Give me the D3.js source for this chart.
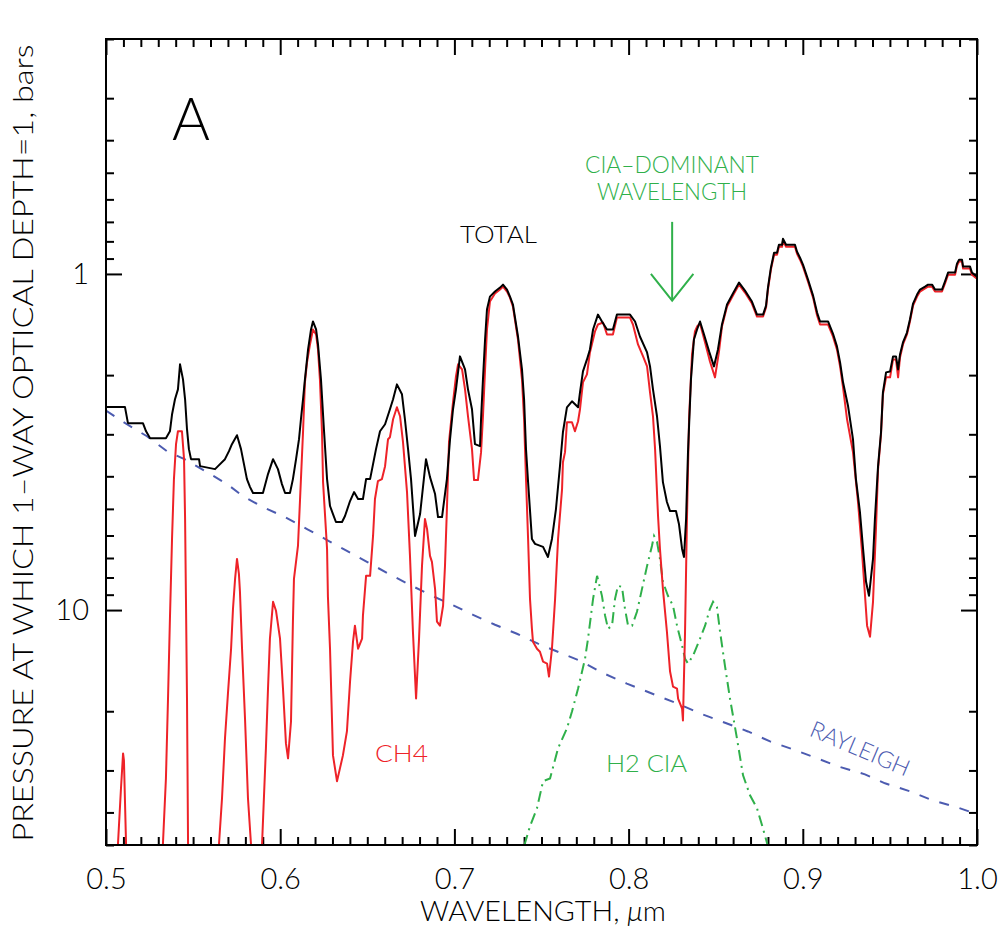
<!DOCTYPE html>
<html><head><meta charset="utf-8">
<script src="https://cdn.jsdelivr.net/npm/d3@7"></script>
<style>
body{margin:0;background:#fff;}
text{font-family:Lato,"Liberation Sans",sans-serif;font-weight:300;}
</style>
</head><body>
<svg id="c" width="999" height="933"></svg>
<script>
// ---- data (wavelength in micron, pressure in bars) ----
const totalW = [0.5000,0.5109,0.5126,0.5212,0.5230,0.5253,0.5344,0.5367,0.5379,0.5396,0.5413,0.5425,0.5442,0.5454,0.5465,0.5476,0.5488,0.5534,0.5540,0.5626,0.5643,0.5683,0.5706,0.5723,0.5752,0.5775,0.5792,0.5809,0.5827,0.5844,0.5901,0.5930,0.5959,0.5987,0.6010,0.6028,0.6056,0.6073,0.6091,0.6108,0.6119,0.6131,0.6142,0.6160,0.6177,0.6188,0.6206,0.6217,0.6234,0.6251,0.6269,0.6286,0.6303,0.6320,0.6355,0.6372,0.6401,0.6424,0.6447,0.6475,0.6493,0.6516,0.6533,0.6550,0.6573,0.6602,0.6630,0.6648,0.6670,0.6699,0.6716,0.6734,0.6751,0.6774,0.6803,0.6837,0.6860,0.6889,0.6906,0.6929,0.6957,0.6975,0.6992,0.7009,0.7032,0.7061,0.7078,0.7101,0.7118,0.7147,0.7153,0.7164,0.7176,0.7187,0.7204,0.7233,0.7262,0.7279,0.7302,0.7319,0.7336,0.7365,0.7388,0.7400,0.7411,0.7423,0.7445,0.7463,0.7509,0.7537,0.7560,0.7583,0.7606,0.7623,0.7646,0.7675,0.7710,0.7721,0.7738,0.7761,0.7778,0.7796,0.7824,0.7847,0.7876,0.7910,0.7933,0.8008,0.8037,0.8065,0.8106,0.8123,0.8140,0.8163,0.8180,0.8197,0.8220,0.8238,0.8272,0.8289,0.8307,0.8318,0.8330,0.8341,0.8358,0.8375,0.8393,0.8410,0.8433,0.8462,0.8490,0.8513,0.8536,0.8565,0.8599,0.8634,0.8668,0.8708,0.8726,0.8737,0.8772,0.8789,0.8800,0.8817,0.8835,0.8852,0.8863,0.8881,0.8886,0.8904,0.8955,0.8967,0.8984,0.9001,0.9030,0.9059,0.9082,0.9099,0.9145,0.9173,0.9196,0.9214,0.9231,0.9260,0.9288,0.9305,0.9328,0.9346,0.9363,0.9380,0.9403,0.9414,0.9432,0.9449,0.9460,0.9478,0.9501,0.9518,0.9535,0.9547,0.9558,0.9575,0.9598,0.9615,0.9633,0.9656,0.9673,0.9702,0.9719,0.9742,0.9759,0.9799,0.9816,0.9834,0.9874,0.9885,0.9897,0.9914,0.9920,0.9960,0.9971,1.0000];
const totalP = [2.49,2.49,2.78,2.78,2.94,3.08,3.08,2.94,2.62,2.36,2.205,1.858,2.059,2.36,2.897,3.321,3.557,3.557,3.731,3.808,3.731,3.557,3.367,3.210,3.019,3.321,3.680,4.077,4.307,4.486,4.486,3.940,3.557,3.808,4.220,4.486,4.486,4.077,3.557,3.102,2.706,2.36,2.059,1.677,1.463,1.385,1.463,1.621,2.059,2.897,4.077,4.903,5.180,5.470,5.470,5.251,4.739,4.456,4.674,4.674,4.077,4.077,3.680,3.321,2.938,2.800,2.527,2.36,2.131,2.281,2.706,3.321,4.077,6.018,5.180,3.557,4.022,4.517,5.287,5.287,4.077,3.102,2.527,2.205,1.759,1.923,2.205,2.527,3.210,3.254,2.706,2.059,1.567,1.276,1.168,1.128,1.098,1.076,1.113,1.168,1.233,1.535,1.923,2.36,3.321,4.162,6.143,6.356,6.487,6.950,6.143,5.005,3.731,2.958,2.493,2.393,2.493,2.250,1.950,1.796,1.677,1.463,1.321,1.385,1.463,1.463,1.321,1.321,1.385,1.535,1.712,1.884,2.205,2.651,3.254,4.162,4.771,5.075,5.075,5.545,6.577,6.950,5.359,3.390,2.059,1.567,1.463,1.385,1.514,1.700,1.884,1.677,1.414,1.233,1.144,1.061,1.121,1.208,1.276,1.321,1.321,1.242,1.098,0.958,0.865,0.865,0.819,0.819,0.786,0.819,0.819,0.859,0.895,0.938,1.040,1.160,1.303,1.385,1.385,1.504,1.643,1.833,2.101,2.476,3.102,4.077,5.109,6.577,8.241,9.071,7.045,5.359,3.731,2.958,2.250,1.963,1.950,1.759,1.759,1.923,1.736,1.599,1.494,1.366,1.225,1.152,1.113,1.091,1.076,1.076,1.113,1.113,1.054,0.991,0.991,0.932,0.907,0.907,0.951,0.951,0.991,1.019];

const ch4W = [0.5046,0.5069,0.5086,0.5098,0.5103,0.5115,0.5126,0.5310,0.5327,0.5344,0.5356,0.5367,0.5379,0.5390,0.5402,0.5413,0.5436,0.5448,0.5454,0.5459,0.5465,0.5471,0.5482,0.5631,0.5649,0.5666,0.5683,0.5700,0.5718,0.5729,0.5741,0.5752,0.5763,0.5769,0.5781,0.5798,0.5815,0.5832,0.5844,0.5878,0.5896,0.5918,0.5930,0.5941,0.5959,0.5976,0.5999,0.6016,0.6033,0.6045,0.6062,0.6073,0.6079,0.6102,0.6114,0.6131,0.6142,0.6154,0.6171,0.6188,0.6206,0.6217,0.6228,0.6240,0.6246,0.6269,0.6274,0.6286,0.6303,0.6326,0.6343,0.6360,0.6383,0.6401,0.6418,0.6429,0.6447,0.6470,0.6475,0.6493,0.6516,0.6533,0.6544,0.6561,0.6584,0.6602,0.6619,0.6630,0.6648,0.6670,0.6688,0.6705,0.6728,0.6745,0.6762,0.6780,0.6797,0.6814,0.6831,0.6843,0.6860,0.6871,0.6889,0.6900,0.6917,0.6935,0.6946,0.6957,0.6969,0.6992,0.7009,0.7021,0.7044,0.7061,0.7078,0.7101,0.7113,0.7135,0.7153,0.7164,0.7176,0.7187,0.7204,0.7233,0.7262,0.7279,0.7302,0.7319,0.7336,0.7365,0.7388,0.7400,0.7411,0.7423,0.7434,0.7445,0.7451,0.7474,0.7491,0.7509,0.7532,0.7543,0.7560,0.7578,0.7595,0.7618,0.7623,0.7635,0.7646,0.7675,0.7692,0.7710,0.7721,0.7738,0.7761,0.7778,0.7807,0.7824,0.7853,0.7876,0.7910,0.7933,0.8008,0.8025,0.8054,0.8083,0.8106,0.8123,0.8140,0.8152,0.8169,0.8180,0.8197,0.8220,0.8238,0.8255,0.8278,0.8284,0.8307,0.8312,0.8324,0.8335,0.8347,0.8364,0.8381,0.8393,0.8410,0.8439,0.8467,0.8496,0.8519,0.8536,0.8565,0.8599,0.8634,0.8668,0.8708,0.8726,0.8737,0.8772,0.8789,0.8800,0.8817,0.8835,0.8852,0.8863,0.8881,0.8886,0.8904,0.8955,0.8967,0.8984,0.9001,0.9030,0.9059,0.9082,0.9099,0.9145,0.9173,0.9196,0.9214,0.9231,0.9254,0.9288,0.9317,0.9340,0.9369,0.9386,0.9403,0.9420,0.9432,0.9449,0.9460,0.9478,0.9501,0.9518,0.9535,0.9547,0.9558,0.9575,0.9598,0.9615,0.9633,0.9656,0.9673,0.9702,0.9719,0.9742,0.9759,0.9799,0.9816,0.9834,0.9874,0.9885,0.9897,0.9914,0.9920,0.9960,0.9971,1.0000];
const ch4P = [100,49.4,33.9,26.7,28.0,49.4,100,100,49.4,31.7,18.33,10.62,6.143,4.077,3.210,2.938,2.938,3.557,5.359,9.26,18.33,49.4,100,100,49.4,36.3,24.1,17.72,13.03,9.91,8.075,7.045,7.804,8.826,13.03,21.02,36.3,49.4,100,100,49.4,25.79,17.12,12.17,9.45,10.05,12.17,17.12,24.93,27.62,21.46,10.83,8.075,6.445,4.674,2.958,2.101,1.833,1.621,1.463,1.514,1.677,2.059,2.958,4.162,6.577,9.13,13.03,27.06,32.3,29.58,27.06,22.97,16.32,12.42,11.13,13.03,12.17,10.39,7.91,7.91,6.018,4.674,4.133,4.077,3.731,3.102,3.060,2.706,2.493,2.651,3.167,4.456,6.90,11.6,18.33,12.17,7.39,5.359,5.738,6.90,7.19,8.65,10.83,11.13,9.71,7.39,5.005,3.167,2.409,2.017,1.858,1.923,2.205,2.651,3.321,4.106,4.106,3.390,2.651,1.923,1.463,1.208,1.144,1.113,1.091,1.128,1.176,1.251,1.567,2.059,2.706,4.077,6.143,9.26,11.36,12.42,13.03,13.30,14.24,14.43,15.77,13.03,9.26,6.143,4.366,3.631,3.390,2.762,2.762,2.938,2.743,2.527,2.101,1.990,1.712,1.483,1.414,1.395,1.514,1.514,1.348,1.348,1.414,1.621,1.759,1.884,2.250,2.651,3.321,5.251,6.577,8.65,11.6,15.24,16.89,17.12,18.33,19.63,21.31,11.6,5.359,2.706,1.736,1.483,1.434,1.404,1.599,1.821,2.031,1.700,1.434,1.251,1.160,1.076,1.136,1.225,1.294,1.339,1.339,1.259,1.113,0.971,0.877,0.877,0.830,0.830,0.797,0.830,0.830,0.871,0.907,0.951,1.054,1.176,1.329,1.414,1.414,1.535,1.677,1.884,2.175,2.706,3.390,4.771,6.714,11.13,12.0,9.45,5.738,3.808,2.999,2.281,2.031,2.031,1.796,1.796,2.031,1.772,1.621,1.514,1.385,1.242,1.168,1.128,1.105,1.091,1.091,1.128,1.128,1.069,1.005,1.005,0.945,0.919,0.919,0.964,0.964,1.005,1.033];

const ciaW = [0.7377,0.7405,0.7434,0.7474,0.7509,0.7549,0.7560,0.7595,0.7646,0.7675,0.7710,0.7750,0.7767,0.7796,0.7819,0.7847,0.7865,0.7882,0.7905,0.7922,0.7939,0.7962,0.7979,0.7997,0.8020,0.8048,0.8077,0.8106,0.8134,0.8146,0.8163,0.8180,0.8197,0.8226,0.8255,0.8278,0.8307,0.8324,0.8341,0.8370,0.8410,0.8439,0.8467,0.8485,0.8507,0.8525,0.8553,0.8582,0.8622,0.8657,0.8697,0.8737,0.8766,0.8795,0.8812];
const ciaP = [58.6,49.4,43.95,38.87,32.3,31.7,30.19,25.79,22.50,20.04,17.12,13.95,12.17,9.26,7.91,9.071,10.39,11.36,11.13,9.26,8.47,8.53,9.91,11.13,11.13,10.12,8.65,7.39,6.445,6.018,6.27,7.045,8.241,9.071,9.71,11.13,12.76,13.95,14.43,13.66,12.17,11.13,9.91,9.45,9.78,11.6,14.63,18.33,24.1,31.02,35.57,38.87,43.66,49.4,58.6];

const rayW = [0.500,0.512,0.5235,0.535,0.5453,0.558,0.5695,0.5786,0.590,0.6028,0.6154,0.6269,0.6383,0.6498,0.6613,0.6734,0.686,0.6986,0.7107,0.7233,0.7359,0.748,0.7606,0.7733,0.7847,0.799,0.8163,0.8295,0.841,0.8565,0.8685,0.8812,0.8944,0.9082,0.9202,0.9357,0.9472,0.9615,0.9742,0.9885,1.0];
const rayP = [2.55,2.80,3.04,3.37,3.56,3.89,4.22,4.58,4.94,5.29,5.74,6.19,6.67,7.19,7.75,8.36,9.01,9.64,10.33,11.06,11.76,12.59,13.39,14.24,15.35,16.55,17.96,19.10,20.31,21.75,22.97,24.59,25.97,27.62,29.17,30.82,32.77,34.61,36.80,38.61,40.5];

const xTicks = [0.5,0.6,0.7,0.8,0.9,1.0];
const xTickLabels = ["0.5","0.6","0.7","0.8","0.9","1.0"];
const yTicks = [1,10];
const yTickLabels = ["1","10"];
const arrowW = 0.825, arrowTop = 0.70, arrowTip = 1.20, arrowBack = 1.0, arrowHalf = 0.0122;

// ---- layout ----
const L=106, R=977, T=39, B=845;
const svg = d3.select("#c");
const x = d3.scaleLinear().domain([0.5,1.0]).range([L,R]);
const y = d3.scaleLog().domain([0.2,50]).range([T,B]);

const xMinor = d3.range(51).map(i=>+(0.5+i*0.01).toFixed(2)).filter(v=>!xTicks.includes(v));
const yMinor = [0.2,0.3,0.4,0.5,0.6,0.7,0.8,0.9,2,3,4,5,6,7,8,9,20,30,40,50];

svg.append("defs").append("clipPath").attr("id","clip")
  .append("rect").attr("x",L).attr("y",T).attr("width",R-L).attr("height",B-T);

function styleAxis(g){
  g.select(".domain").remove();
  g.selectAll(".tick line").attr("stroke","#000").attr("stroke-width",2);
  g.selectAll(".tick text").attr("font-size",29).attr("fill","#000")
   .attr("font-family","Lato, 'Liberation Sans', sans-serif").attr("font-weight",300);
}
svg.append("g").attr("transform",`translate(0,${B})`)
  .call(d3.axisBottom(x).tickValues(xMinor).tickSize(-8).tickFormat("")).call(styleAxis);
svg.append("g").attr("transform",`translate(0,${B})`)
  .call(d3.axisBottom(x).tickValues(xTicks).tickSize(-16).tickPadding(23).tickFormat((d,i)=>xTickLabels[i])).call(styleAxis);
svg.append("g").attr("transform",`translate(0,${T})`)
  .call(d3.axisTop(x).tickValues(xMinor).tickSize(-8).tickFormat("")).call(styleAxis);
svg.append("g").attr("transform",`translate(0,${T})`)
  .call(d3.axisTop(x).tickValues(xTicks).tickSize(-16).tickFormat("")).call(styleAxis);
svg.append("g").attr("transform",`translate(${L},0)`)
  .call(d3.axisLeft(y).tickValues(yMinor).tickSize(-8).tickFormat("")).call(styleAxis);
svg.append("g").attr("transform",`translate(${L},0)`)
  .call(d3.axisLeft(y).tickValues(yTicks).tickSize(-16).tickPadding(17).tickFormat((d,i)=>yTickLabels[i])).call(styleAxis);
svg.append("g").attr("transform",`translate(${R},0)`)
  .call(d3.axisRight(y).tickValues(yMinor).tickSize(-8).tickFormat("")).call(styleAxis);
svg.append("g").attr("transform",`translate(${R},0)`)
  .call(d3.axisRight(y).tickValues(yTicks).tickSize(-16).tickFormat("")).call(styleAxis);

// ---- curves ----
const line = d3.line().x(d=>x(d[0])).y(d=>y(d[1]));
const plot = svg.append("g").attr("clip-path","url(#clip)");
plot.append("path").datum(d3.zip(rayW,rayP)).attr("d",line)
  .attr("fill","none").attr("stroke","#4c5bb0").attr("stroke-width",2).attr("stroke-dasharray","10,11");
plot.append("path").datum(d3.zip(ciaW,ciaP)).attr("d",line)
  .attr("fill","none").attr("stroke","#2fb04a").attr("stroke-width",2).attr("stroke-dasharray","11,5,2,5");
plot.append("path").datum(d3.zip(ch4W,ch4P)).attr("d",line)
  .attr("fill","none").attr("stroke","#ee2228").attr("stroke-width",2).attr("stroke-linejoin","round");
plot.append("path").datum(d3.zip(totalW,totalP)).attr("d",line)
  .attr("fill","none").attr("stroke","#000").attr("stroke-width",2).attr("stroke-linejoin","round");

// arrow
const green = "#2fb04a";
svg.append("line").attr("x1",x(arrowW)).attr("x2",x(arrowW)).attr("y1",y(arrowTop)).attr("y2",y(arrowTip))
  .attr("stroke",green).attr("stroke-width",2);
svg.append("path").attr("d",d3.line()([[x(arrowW-arrowHalf),y(arrowBack)],[x(arrowW),y(arrowTip)],[x(arrowW+arrowHalf),y(arrowBack)]]))
  .attr("fill","none").attr("stroke",green).attr("stroke-width",2);

// frame
svg.append("rect").attr("x",L).attr("y",T).attr("width",R-L).attr("height",B-T)
  .attr("fill","none").attr("stroke","#000").attr("stroke-width",2);

// ---- text ----
function txt(s,xx,yy,opt){
  const t = svg.append("text").attr("x",xx).attr("y",yy).text(s)
    .attr("font-size",opt.size).attr("fill",opt.color||"#000")
    .attr("text-anchor",opt.anchor||"middle");
  if(opt.len) t.attr("textLength",opt.len).attr("lengthAdjust","spacingAndGlyphs");
  if(opt.rot!==undefined) t.attr("transform",`rotate(${opt.rot},${xx},${yy})`);
  return t;
}
txt("PRESSURE AT WHICH 1\u2013WAY OPTICAL DEPTH=1,  bars",33,443,{size:28,len:797,rot:-90});
const xl = svg.append("text").attr("x",543).attr("y",921).attr("text-anchor","middle").attr("font-size",28)
  .attr("textLength",246).attr("lengthAdjust","spacingAndGlyphs");
xl.append("tspan").text("WAVELENGTH,  ");
xl.append("tspan").attr("font-style","italic").text("\u03bc");
xl.append("tspan").text("m");
txt("A",172,140,{size:60,anchor:"start",len:38});
txt("TOTAL",498.5,243,{size:23,len:77});
txt("CIA\u2013DOMINANT",672,173,{size:23,len:174,color:green});
txt("WAVELENGTH",672,200,{size:23,len:150,color:green});
txt("CH4",401.5,762,{size:23,len:53,color:"#ee2228"});
txt("H2  CIA",646.5,772,{size:23,len:81,color:green});
txt("RAYLEIGH",857,756,{size:23,len:106,color:"#4c5bb0",rot:23});
</script>
</body></html>
